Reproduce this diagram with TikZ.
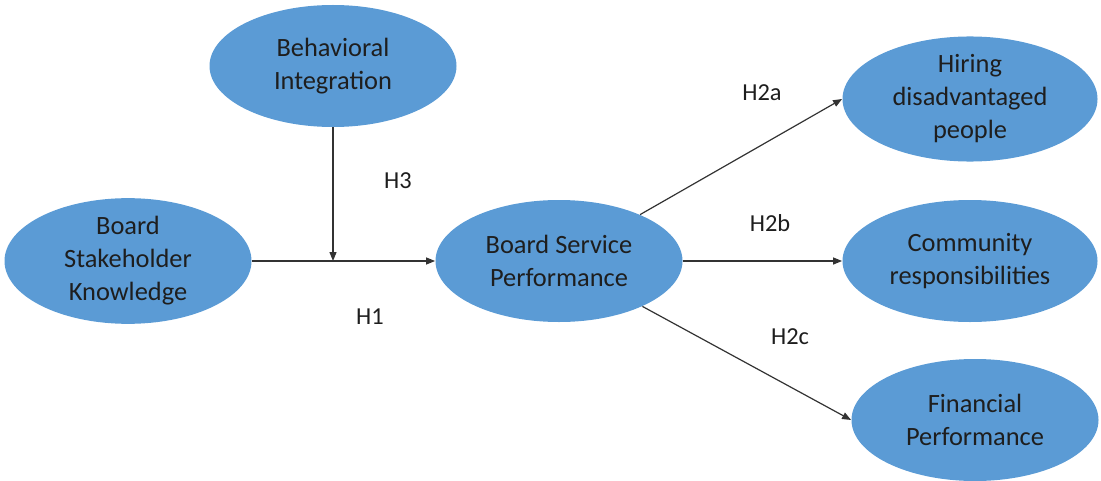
\documentclass[tikz,border=0pt]{standalone}
\usepackage{fontspec}
\setmainfont{Carlito}
\usepackage{xcolor}
\usetikzlibrary{arrows.meta, shapes.geometric}
\definecolor{boxblue}{HTML}{5B9BD5}
\definecolor{inktext}{HTML}{1E1E1E}

\begin{document}
\begin{tikzpicture}[x=0.5pt, y=-0.5pt, >={Triangle[length=4.5pt, width=3.5pt]},
  construct/.style={ellipse, fill=boxblue, inner sep=0pt, align=center, text=inktext,
    font=\fontsize{13.2}{16.5}\selectfont, minimum width=123.5pt, minimum height=61pt},
  hyp/.style={font=\fontsize{12.2}{14}\selectfont, text=inktext},
  path/.style={->, draw=black!80, line width=0.6pt}]
  \useasboundingbox (0,0) rectangle (1101,481);
  \node[construct] (bsk) at (128,261) {Board\\Stakeholder\\Knowledge};
  \node[construct] (bi) at (333,66) {Behavioral\\Integration};
  \node[construct] (bsp) at (559,261) {Board Service\\Performance};
  \node[construct, minimum width=127.5pt] (hire) at (970,99) {Hiring\\disadvantaged\\people};
  \node[construct, minimum width=127.5pt] (comm) at (970,261) {Community\\responsibilities};
  \node[construct] (fin) at (975,420) {Financial\\Performance};
  \coordinate (join) at (bi.south |- bsk.east);
  % main effect and moderation
  \draw[path] (bsk.east) -- (bsp.west);
  \draw[path] (bi.south) -- (join);
  % outcomes
  \draw[path] (bsp) -- (hire.west);
  \draw[path] (bsp.east) -- (comm.west);
  \draw[path] (bsp) -- (fin.west);
  \node[hyp] (h1) at (370,317) {H1};
  \node[hyp] (h3) at (398,181) {H3};
  \node[hyp] (h2a) at (762,93) {H2a};
  \node[hyp] (h2b) at (770,223) {H2b};
  \node[hyp] (h2c) at (790,337) {H2c};
\end{tikzpicture}
\end{document}
